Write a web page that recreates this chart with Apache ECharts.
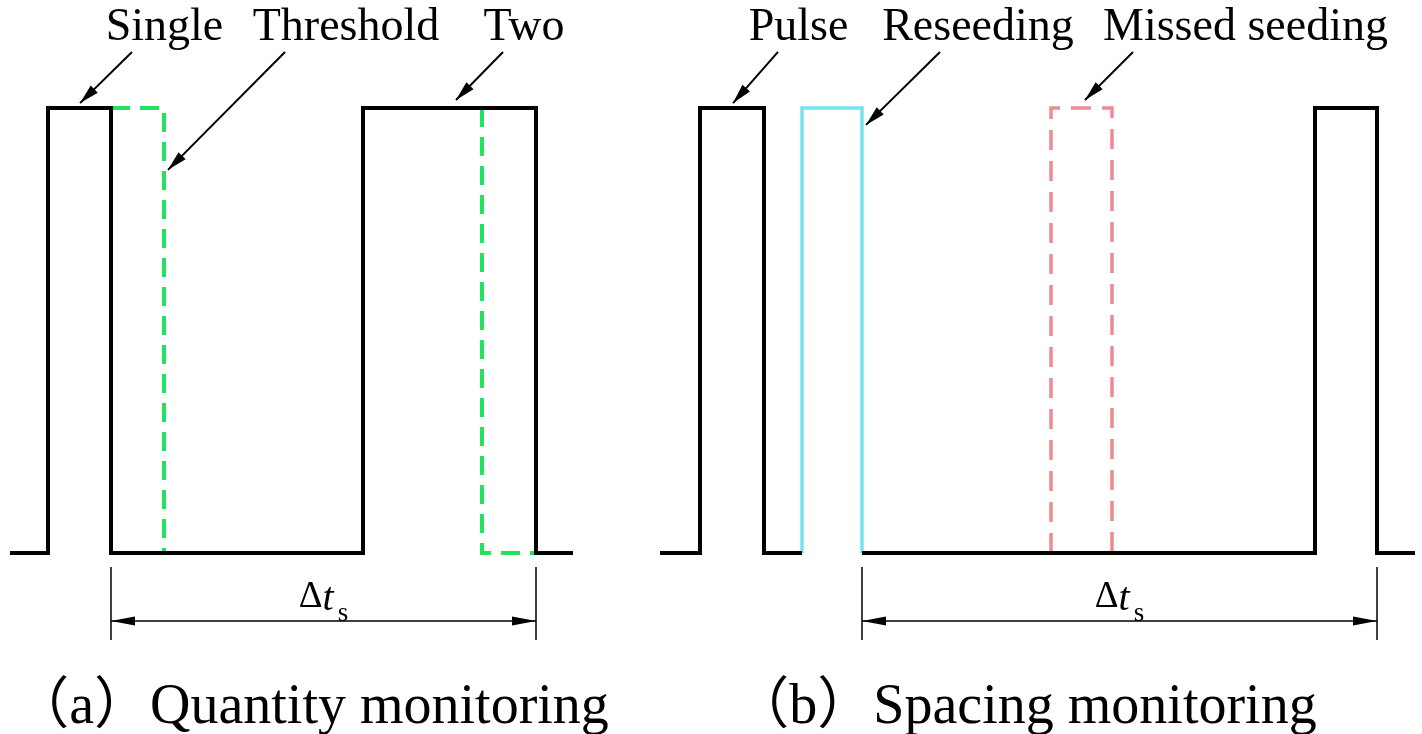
<!DOCTYPE html>
<html><head><meta charset="utf-8">
<script src="https://cdn.jsdelivr.net/npm/echarts@6/dist/echarts.min.js"></script>
<style>html,body{margin:0;padding:0;background:#fff}#c{width:1422px;height:734px}</style>
</head><body><div id="c"></div>
<script>
// ---------- data (time units along each panel, level 0 = low, 1 = high) ----------
// Panel (a) Quantity monitoring
const pulseA = [[0,0],[38,0],[38,1],[101,1],[101,0],[353,0],[353,1],[526,1],[526,0],[563,0]];
const thresholdA1 = [[101,1],[154,1],[154,0]];
const thresholdA2 = [[472,1],[472,0],[526,0]];
const labelsA = ['Single','Threshold','Two'];
const labelPosA = [154.5, 336, 514];
const arrowsA = [[[122,1.126],[70,1.011]], [[275,1.126],[158,0.861]], [[493,1.126],[446,1.018]]];
const spanA = [101, 526];
const captionA = '（a）Quantity monitoring';
const captionPosA = 301;

// Panel (b) Spacing monitoring
const pulseB1 = [[0,0],[40,0],[40,1],[104,1],[104,0],[142,0]];
const reseedB = [[142,0],[142,1],[202,1],[202,0]];
const pulseB2 = [[202,0],[655,0],[655,1],[717,1],[717,0],[755,0]];
const missedB = [[391,0],[391,1],[452,1],[452,0]];
const labelsB = ['Pulse','Reseeding','Missed seeding'];
const labelPosB = [138.5, 318, 585.5];
const arrowsB = [[[118,1.126],[73,1.011]], [[280,1.126],[206,0.962]], [[473,1.126],[425,1.018]]];
const spanB = [202, 717];
const captionB = '（b）Spacing monitoring';
const captionPosB = 365;

// ---------- layout ----------
const W = 1422, H = 734, BASE = 553, TOP = 108;
const unit = BASE - TOP;
const yMin = -(H - BASE) / unit, yMax = BASE / unit;
const LABEL_Y = 1.18, DIM_TICK = [-0.0315, -0.1955], DIM_Y = -0.1528, DIM_LABEL_Y = -0.106, CAP_Y = -0.348;
const SERIF = "'Liberation Serif','Times New Roman','Noto Sans CJK SC',serif";
const ARROW = 'path://M5,0L10,20L0,20Z';
const DIMARROW = 'path://M5,0L10,30L0,30Z';
const TIP = [0, '50%'];

function wave(data, xi, color, width, dash, z) {
  return { type:'line', xAxisIndex:xi, yAxisIndex:xi, data:data, symbol:'none', clip:false, silent:true, z:z,
    lineStyle:{ color:color, width:width, type:dash||'solid', cap:'butt', join:'miter' }, animation:false };
}
function annot(xi, labels, pos, arrows, span, caption, capX) {
  const texts = labels.map((t,i)=>({ value:[pos[i], LABEL_Y], label:{ formatter:t, fontSize:46, color:'#000' } }));
  texts.push({ value:[(span[0]+span[1])/2, DIM_LABEL_Y], label:{ formatter:'{d|Δ}{t|t}{s|s}', color:'#000' } });
  texts.push({ value:[capX, CAP_Y], label:{ formatter:caption, fontSize:56, color:'#000' } });
  const ml = arrows.map(a=>[{coord:a[0], symbol:'none'},{coord:a[1], symbol:ARROW, symbolSize:[10,20], symbolOffset:TIP}]);
  const dims = [
    [{coord:[span[0],DIM_TICK[0]], symbol:'none', lineStyle:{width:1.5}},{coord:[span[0],DIM_TICK[1]], symbol:'none'}],
    [{coord:[span[1],DIM_TICK[0]], symbol:'none', lineStyle:{width:1.5}},{coord:[span[1],DIM_TICK[1]], symbol:'none'}],
    [{coord:[span[0],DIM_Y], symbol:DIMARROW, symbolSize:[9,24], symbolOffset:TIP, lineStyle:{width:1.5}},
     {coord:[span[1],DIM_Y], symbol:DIMARROW, symbolSize:[9,24], symbolOffset:TIP}]
  ];
  return { type:'scatter', xAxisIndex:xi, yAxisIndex:xi, data:texts, symbolSize:0, clip:false, silent:true, animation:false,
    itemStyle:{ opacity:1, color:'#000' },
    label:{ show:true, position:'inside', color:'#000', textBorderWidth:0, fontFamily:SERIF, align:'center', verticalAlign:'middle',
      rich:{
        d:{ fontFamily:SERIF, fontSize:37, lineHeight:42, verticalAlign:'top', color:'#000' },
        t:{ fontFamily:SERIF, fontSize:40, fontStyle:'italic', lineHeight:42, verticalAlign:'top', color:'#000', padding:[0,4,0,0] },
        s:{ fontFamily:SERIF, fontSize:27, lineHeight:28, padding:[21,0,0,0], verticalAlign:'top', color:'#000' }
      } },
    markLine:{ silent:true, animation:false, label:{show:false}, emphasis:{disabled:true},
      lineStyle:{ color:'#000', width:2, type:'solid', opacity:1 }, symbol:['none','none'],
      data: ml.concat(dims) } };
}

const chart = echarts.init(document.getElementById('c'), null, {renderer:'canvas'});
chart.setOption({
  backgroundColor:'#fff',
  animation:false,
  grid:[
    { left:10, width:563, top:0, height:H },
    { left:660, width:755, top:0, height:H }
  ],
  xAxis:[
    { type:'value', gridIndex:0, min:0, max:563, show:false },
    { type:'value', gridIndex:1, min:0, max:755, show:false }
  ],
  yAxis:[
    { type:'value', gridIndex:0, min:yMin, max:yMax, show:false },
    { type:'value', gridIndex:1, min:yMin, max:yMax, show:false }
  ],
  series:[
    wave(thresholdA1, 0, '#22E35E', 4, [19,10], 2),
    wave(thresholdA2, 0, '#22E35E', 4, [19,10], 2),
    wave(pulseA, 0, '#000', 4, 'solid', 3),
    wave(missedB, 1, '#EE8B93', 3.5, [20,11], 2),
    wave(reseedB, 1, '#74E3F0', 3.5, 'solid', 2),
    wave(pulseB1, 1, '#000', 4, 'solid', 3),
    wave(pulseB2, 1, '#000', 4, 'solid', 3),
    annot(0, labelsA, labelPosA, arrowsA, spanA, captionA, captionPosA),
    annot(1, labelsB, labelPosB, arrowsB, spanB, captionB, captionPosB)
  ]
});
</script></body></html>
